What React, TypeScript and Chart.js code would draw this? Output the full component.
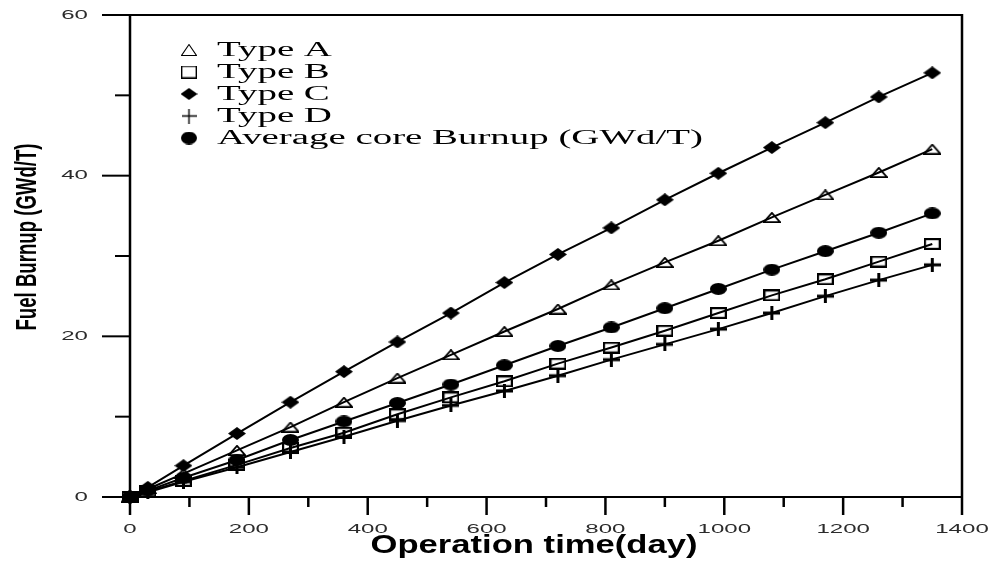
import React, { useEffect, useRef } from "react";
import { Chart, registerables } from "chart.js";

Chart.register(...registerables);

// ---- data ----
const days = [0, 30, 90, 180, 270, 360, 450, 540, 630, 720, 810, 900, 990, 1080, 1170, 1260, 1350];
const typeA = [0, 1.0, 2.9, 5.8, 8.7, 11.8, 14.8, 17.7, 20.6, 23.4, 26.4, 29.2, 31.9, 34.8, 37.6, 40.4, 43.3];
const typeB = [0, 0.7, 2.0, 4.0, 6.1, 8.0, 10.3, 12.4, 14.4, 16.6, 18.6, 20.7, 22.9, 25.1, 27.1, 29.3, 31.5];
const typeC = [0, 1.2, 3.9, 7.9, 11.8, 15.6, 19.3, 22.9, 26.7, 30.2, 33.5, 37.0, 40.3, 43.5, 46.6, 49.8, 52.8];
const typeD = [0, 0.6, 1.9, 3.7, 5.6, 7.5, 9.5, 11.4, 13.2, 15.1, 17.1, 19.0, 20.9, 22.9, 25.0, 27.0, 28.9];
const avgCore = [0, 0.8, 2.4, 4.6, 7.1, 9.4, 11.7, 14.0, 16.4, 18.8, 21.1, 23.5, 25.9, 28.3, 30.6, 32.9, 35.3];

const seriesNames = ["Type A", "Type B", "Type C", "Type D", "Average core Burnup (GWd/T)"];
const markerKinds = ["triangle", "square", "diamond", "cross", "circle"];

const xMajorTicks = [0, 200, 400, 600, 800, 1000, 1200, 1400];
const xMinorTicks = [100, 300, 500, 700, 900, 1100, 1300];
const yMajorTicks = [0, 20, 40, 60];
const yMinorTicks = [10, 30, 50];

const xTitle = "Operation time(day)";
const yTitle = "Fuel Burnup (GWd/T)";

function makeMarker(kind: string, w: number, h: number, lw: number): HTMLCanvasElement {
  const c = document.createElement("canvas");
  c.width = w;
  c.height = h;
  const g = c.getContext("2d")!;
  g.fillStyle = "#000";
  g.strokeStyle = "#000";
  g.lineWidth = lw;
  const p = lw / 2;
  g.beginPath();
  if (kind === "diamond") {
    g.moveTo(w / 2, 0);
    g.lineTo(w, h / 2);
    g.lineTo(w / 2, h);
    g.lineTo(0, h / 2);
    g.closePath();
    g.fill();
  } else if (kind === "triangle") {
    g.moveTo(w / 2, p);
    g.lineTo(w - p, h - p);
    g.lineTo(p, h - p);
    g.closePath();
    g.stroke();
  } else if (kind === "square") {
    g.strokeRect(p, p, w - lw, h - lw);
  } else if (kind === "cross") {
    g.moveTo(0, h / 2);
    g.lineTo(w, h / 2);
    g.moveTo(w / 2, 0);
    g.lineTo(w / 2, h);
    g.stroke();
  } else {
    g.ellipse(w / 2, h / 2, w / 2, h / 2, 0, 0, Math.PI * 2);
    g.fill();
  }
  return c;
}

function drawText(
  ctx: CanvasRenderingContext2D,
  text: string,
  x: number,
  y: number,
  font: string,
  sx: number,
  align: CanvasTextAlign,
  baseline: CanvasTextBaseline,
  color: string
) {
  ctx.save();
  ctx.translate(x, y);
  ctx.scale(sx, 1);
  ctx.font = font;
  ctx.fillStyle = color;
  ctx.textAlign = align;
  ctx.textBaseline = baseline;
  ctx.fillText(text, 0, 0);
  ctx.restore();
}

export default function App() {
  const ref = useRef<HTMLCanvasElement | null>(null);

  useEffect(() => {
    if (!ref.current) return;

    const plotMarkers: Record<string, HTMLCanvasElement> = {
      triangle: makeMarker("triangle", 18, 11, 1.8),
      square: makeMarker("square", 17, 12, 2.2),
      diamond: makeMarker("diamond", 18, 13, 1),
      cross: makeMarker("cross", 17, 14, 3),
      circle: makeMarker("circle", 17, 12, 1),
    };
    const legendMarkers: Record<string, HTMLCanvasElement> = {
      triangle: makeMarker("triangle", 16, 12, 1.1),
      square: makeMarker("square", 16, 13, 1.4),
      diamond: makeMarker("diamond", 17, 12, 1),
      cross: makeMarker("cross", 15, 15, 1.4),
      circle: makeMarker("circle", 16, 13, 1),
    };

    const seriesValues = [typeA, typeB, typeC, typeD, avgCore];

    const decor = {
      id: "decor",
      beforeDatasetsDraw(chart: any) {
        const { ctx, chartArea: a, scales } = chart;
        const xs = scales.x;
        const ys = scales.y;
        const line = (x1: number, y1: number, x2: number, y2: number) => {
          ctx.beginPath();
          ctx.moveTo(x1, y1);
          ctx.lineTo(x2, y2);
          ctx.stroke();
        };
        ctx.save();
        ctx.strokeStyle = "#000";
        ctx.lineCap = "butt";
        ctx.lineWidth = 2;
        yMajorTicks.forEach((v) => {
          const py = ys.getPixelForValue(v);
          line(a.left - 28, py, a.left, py);
        });
        yMinorTicks.forEach((v) => {
          const py = ys.getPixelForValue(v);
          line(a.left - 15, py, a.left, py);
        });
        ctx.lineWidth = 2.5;
        xMajorTicks.forEach((v) => {
          const px = xs.getPixelForValue(v);
          line(px, a.bottom, px, a.bottom + 18);
        });
        xMinorTicks.forEach((v) => {
          const px = xs.getPixelForValue(v);
          line(px, a.bottom, px, a.bottom + 10);
        });
        ctx.lineWidth = 2.5;
        line(a.left, a.top - 1, a.left, a.bottom);
        line(a.right, a.top - 1, a.right, a.bottom);
        ctx.lineWidth = 2;
        line(a.left, a.top, a.right, a.top);
        line(a.left, a.bottom, a.right, a.bottom);
        ctx.restore();
      },
      afterDraw(chart: any) {
        const { ctx, chartArea: a, scales } = chart;
        const xs = scales.x;
        const ys = scales.y;
        const tickFont = '13px "Liberation Sans", Arial, sans-serif';
        yMajorTicks.forEach((v) => {
          drawText(ctx, String(v), a.left - 42, ys.getPixelForValue(v), tickFont, 1.85, "right", "middle", "#2b2b2b");
        });
        xMajorTicks.forEach((v) => {
          drawText(ctx, String(v), xs.getPixelForValue(v), a.bottom + 32, tickFont, 1.85, "center", "middle", "#2b2b2b");
        });

        // x title
        ctx.save();
        const xFont = 'bold 26px "Liberation Sans", Arial, sans-serif';
        ctx.font = xFont;
        const xw = ctx.measureText(xTitle).width;
        ctx.restore();
        drawText(ctx, xTitle, 534, 553, xFont, 327 / xw, "center", "alphabetic", "#000");

        // y title (rotated)
        ctx.save();
        const yFont = 'bold 18px "Liberation Sans", Arial, sans-serif';
        ctx.font = yFont;
        const yw = ctx.measureText(yTitle).width;
        ctx.translate(28, 237);
        ctx.rotate(-Math.PI / 2);
        ctx.scale(187 / yw, 1.65);
        ctx.fillStyle = "#000";
        ctx.textAlign = "center";
        ctx.textBaseline = "middle";
        ctx.fillText(yTitle, 0, 0);
        ctx.restore();

        // legend
        ctx.save();
        const lFont = '20px "Liberation Serif", "Times New Roman", serif';
        ctx.font = lFont;
        const lw = ctx.measureText(seriesNames[4]).width;
        ctx.restore();
        const lsx = 486 / lw;
        const rows = [50, 72, 94, 116, 138];
        seriesNames.forEach((name, i) => {
          const m = legendMarkers[markerKinds[i]];
          ctx.drawImage(m, 189 - m.width / 2, rows[i] - m.height / 2);
          drawText(ctx, name, 217, rows[i] + 1, lFont, lsx, "left", "middle", "#000");
        });
      },
    };

    const chart = new Chart(ref.current, {
      type: "scatter",
      data: {
        datasets: seriesNames.map((name, i) => ({
          label: name,
          data: days.map((d, j) => ({ x: d, y: seriesValues[i][j] })),
          showLine: true,
          borderColor: "#000",
          backgroundColor: "#000",
          borderWidth: 2,
          pointStyle: plotMarkers[markerKinds[i]] as any,
          pointRadius: 6,
          clip: false as any,
        })),
      },
      options: {
        animation: false,
        responsive: true,
        maintainAspectRatio: false,
        layout: { padding: { left: 130, right: 30, top: 15, bottom: 67 } },
        plugins: { legend: { display: false }, tooltip: { enabled: false } },
        scales: {
          x: {
            type: "linear",
            min: 0,
            max: 1400,
            ticks: { display: false },
            grid: { display: false },
            border: { display: false },
            afterFit: (s: any) => {
              s.height = 0;
            },
          },
          y: {
            type: "linear",
            min: 0,
            max: 60,
            ticks: { display: false },
            grid: { display: false },
            border: { display: false },
            afterFit: (s: any) => {
              s.width = 0;
            },
          },
        },
      },
      plugins: [decor],
    });

    return () => chart.destroy();
  }, []);

  return (
    <div style={{ position: "fixed", left: 0, top: 0, width: 992, height: 564, background: "#fff" }}>
      <canvas ref={ref} />
    </div>
  );
}
